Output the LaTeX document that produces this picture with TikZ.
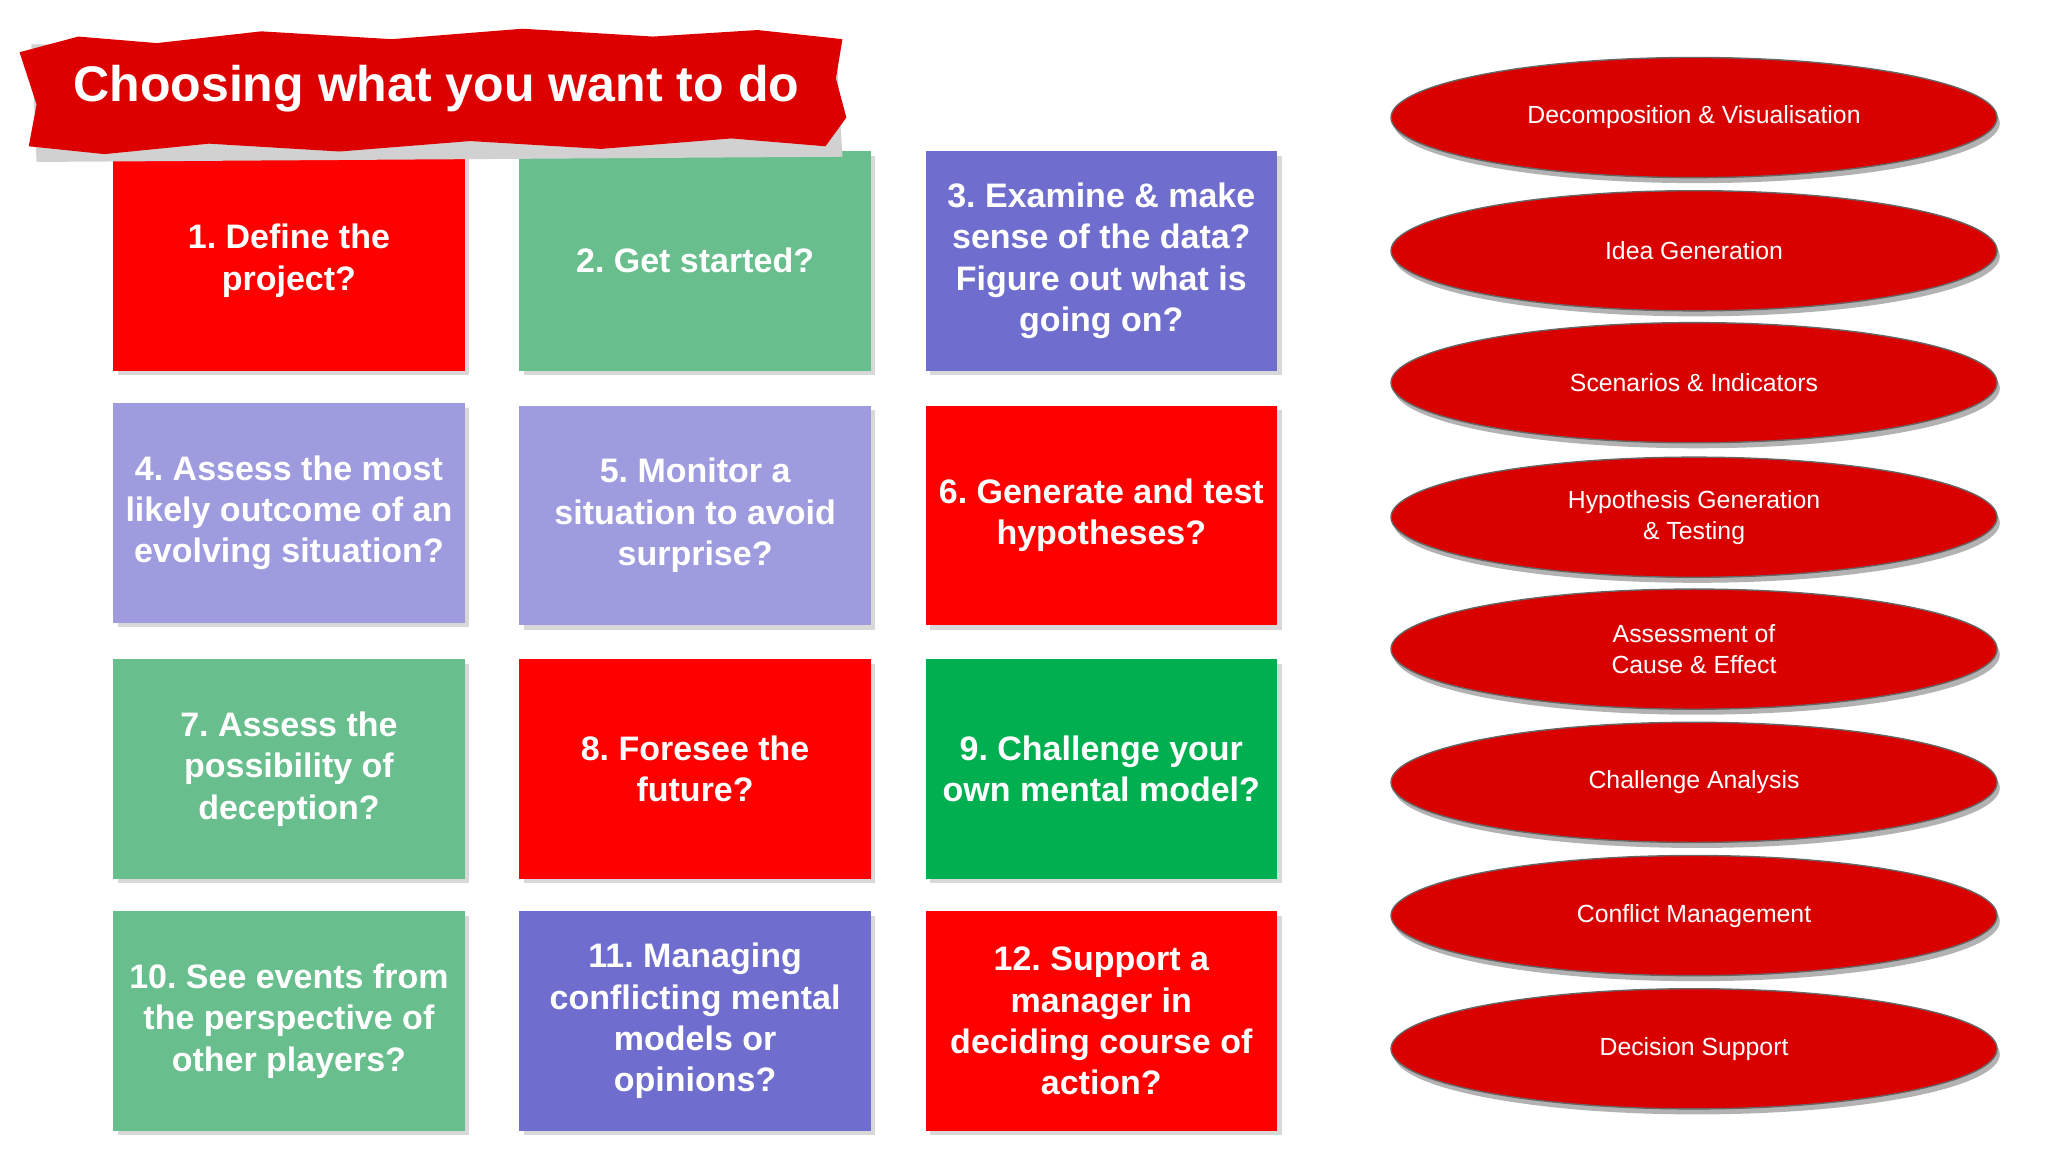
\documentclass[tikz,border=0pt]{standalone}
\usepackage{fontspec}
\setmainfont{Liberation Sans}
\frenchspacing
\usetikzlibrary{shadows,shapes.geometric}
\definecolor{cred}{HTML}{FF0000}
\definecolor{lgreen}{HTML}{68BE8D}
\definecolor{dpurple}{HTML}{6F6ECF}
\definecolor{lav}{HTML}{9E9CDE}
\definecolor{dgreen}{HTML}{00B050}
\definecolor{ered}{HTML}{D90000}
\tikzset{
 card/.style={minimum width=269*0.01cm, minimum height=168*0.01cm, anchor=north west, inner sep=0pt,
   align=center, text=white, font=\bfseries\fontsize{7.4}{9}\selectfont,
   drop shadow={shadow xshift=1pt,shadow yshift=-1pt,opacity=0.3}},
 oval/.style={ellipse, minimum width=464*0.01cm, minimum height=92*0.01cm, fill=ered, draw=black!60, line width=0.3pt,
   text=white, align=center, font=\fontsize{5.4}{6.8}\selectfont,
   drop shadow={shadow xshift=0.6pt,shadow yshift=-1.2pt,opacity=0.6}},
}
\begin{document}
\begin{tikzpicture}[x=0.01cm,y=-0.01cm]
\useasboundingbox (0,0) rectangle (1568,882);
\fill[white] (0,0) rectangle (1568,882);
% cards
\node[card,fill=cred] (c1) at (86,115) {1. Define the\\project?};
\node[card,fill=lgreen] (c2) at (397,115) {2. Get started?};
\node[card,fill=dpurple] (c3) at (708,115) {3. Examine \& make\\sense of the data?\\Figure out what is\\going on?};
\node[card,fill=lav] (c4) at (86,308) {4. Assess the most\\likely outcome of an\\evolving situation?};
\node[card,fill=lav] (c5) at (397,310) {5. Monitor a\\situation to avoid\\surprise?};
\node[card,fill=cred] (c6) at (708,310) {6. Generate and test\\hypotheses?};
\node[card,fill=lgreen] (c7) at (86,504) {7. Assess the\\possibility of\\deception?};
\node[card,fill=cred] (c8) at (397,504) {8. Foresee the\\future?};
\node[card,fill=dgreen] (c9) at (708,504) {9. Challenge your\\own mental model?};
\node[card,fill=lgreen] (c10) at (86,697) {10. See events from\\the perspective of\\other players?};
\node[card,fill=dpurple] (c11) at (397,697) {11. Managing\\conflicting mental\\models or\\opinions?};
\node[card,fill=cred] (c12) at (708,697) {12. Support a\\manager in\\deciding course of\\action?};
% banner
\fill[black!18] (24,34) -- (640,30) -- (645,120) -- (28,124) -- cycle;
\fill[ered!90!red] (15,40) -- (60,28) -- (120,33) -- (200,24) -- (300,30) -- (400,22) -- (500,28) -- (580,23) -- (645,30)
 -- (640,60) -- (648,90) -- (632,112) -- (560,106) -- (460,114) -- (360,108) -- (260,116) -- (160,110) -- (80,118) -- (22,112)
 -- (28,80) -- cycle;
\node[text=white,font=\bfseries\fontsize{10.9}{12}\selectfont] (title) at (334,68) {Choosing what you want to do};
% ovals
\node[oval] (e1) at (1297,90) {Decomposition \& Visualisation};
\node[oval] (e2) at (1297,192) {Idea Generation};
\node[oval] (e3) at (1297,293) {Scenarios \& Indicators};
\node[oval] (e4) at (1297,396) {Hypothesis Generation\\\& Testing};
\node[oval] (e5) at (1297,497) {Assessment of\\Cause \& Effect};
\node[oval] (e6) at (1297,599) {Challenge Analysis};
\node[oval] (e7) at (1297,701) {Conflict Management};
\node[oval] (e8) at (1297,803) {Decision Support};
\end{tikzpicture}
\end{document}
